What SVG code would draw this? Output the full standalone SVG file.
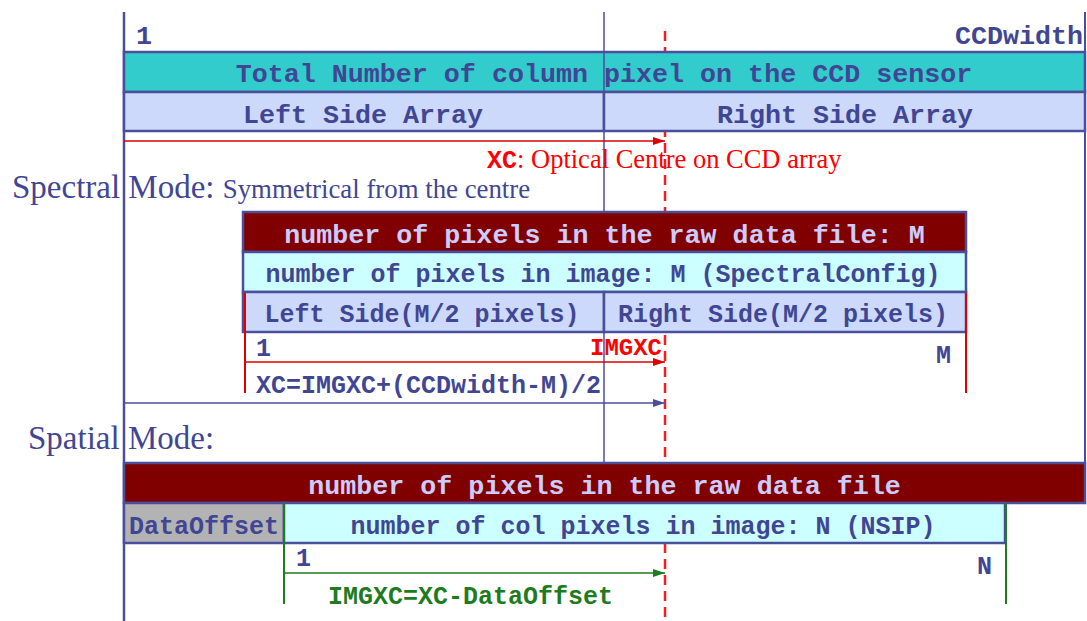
<svg xmlns="http://www.w3.org/2000/svg" width="1087" height="621" viewBox="0 0 1087 621">
<style>
.box{stroke:#4b4f9b;stroke-width:2.5}
.mono{font-family:"Liberation Mono","Courier New",monospace;font-weight:bold}
.serif{font-family:"Liberation Serif","Times New Roman",serif}
.navy{fill:#414694}
.lav{fill:#ccccff}
.red{fill:#ff0000}
.green{fill:#1e7b1e}
.t27{font-size:26.7px}
.t25{font-size:25px}
</style>
<defs>
<marker id="ahRed" viewBox="0 0 12 8" refX="12" refY="4" markerWidth="12" markerHeight="8" markerUnits="userSpaceOnUse" orient="auto"><path d="M0,0 L12,4 L0,8 Z" fill="#e00000"/></marker>
<marker id="ahNavy" viewBox="0 0 12 8" refX="12" refY="4" markerWidth="12" markerHeight="8" markerUnits="userSpaceOnUse" orient="auto"><path d="M0,0 L12,4 L0,8 Z" fill="#4b4f9b"/></marker>
<marker id="ahGreen" viewBox="0 0 12 8" refX="12" refY="4" markerWidth="12" markerHeight="8" markerUnits="userSpaceOnUse" orient="auto"><path d="M0,0 L12,4 L0,8 Z" fill="#1e7b1e"/></marker>
</defs>
<rect width="1087" height="621" fill="#ffffff"/>

<g id="connectors">
<line x1="124" y1="12" x2="124" y2="621" stroke="#4b4f9b" stroke-width="2.5"/>
<line x1="604" y1="12" x2="604" y2="462" stroke="#4b4f9b" stroke-width="1.5"/>
<line x1="1085" y1="12" x2="1085" y2="503" stroke="#4b4f9b" stroke-width="2"/>
<line x1="665" y1="31" x2="665" y2="621" stroke="#ff1a1a" stroke-width="2.5" stroke-dasharray="10,6"/>
<line x1="124" y1="141" x2="665" y2="141" stroke="#e00000" stroke-width="1.5" marker-end="url(#ahRed)"/>
<line x1="245" y1="362" x2="665" y2="362" stroke="#e00000" stroke-width="1.5" marker-end="url(#ahRed)"/>
<line x1="124" y1="403" x2="665" y2="403" stroke="#4b4f9b" stroke-width="1.5" marker-end="url(#ahNavy)"/>
<line x1="284" y1="573" x2="665" y2="573" stroke="#1e7b1e" stroke-width="1.5" marker-end="url(#ahGreen)"/>
</g>

<g id="ccd-total">
<rect class="box" x="124" y="52" width="961" height="40" fill="#33cccc"/>
<line x1="604" y1="52" x2="604" y2="92" stroke="#4b4f9b" stroke-width="1.5"/>
<text class="mono navy t27" x="604" y="82" text-anchor="middle">Total Number of column pixel on the CCD sensor</text>
</g>
<g id="ccd-left">
<rect class="box" x="124" y="92" width="480" height="39" fill="#ccd9fb"/>
<text class="mono navy t27" x="363" y="123" text-anchor="middle">Left Side Array</text>
</g>
<g id="ccd-right">
<rect class="box" x="604" y="92" width="481" height="39" fill="#ccd9fb"/>
<text class="mono navy t27" x="845" y="123" text-anchor="middle">Right Side Array</text>
</g>

<g id="spec-raw">
<rect class="box" x="243" y="212" width="723" height="40" fill="#800000"/>
<text class="mono lav t27" x="604.5" y="243" text-anchor="middle">number of pixels in the raw data file: M</text>
</g>
<g id="spec-image">
<rect class="box" x="243" y="252" width="723" height="40" fill="#ccffff"/>
<text class="mono navy t25" x="603" y="282" text-anchor="middle">number of pixels in image: M (SpectralConfig)</text>
</g>
<g id="spec-left">
<rect class="box" x="243" y="292" width="361" height="40" fill="#ccd9fb"/>
<text class="mono navy t25" x="422" y="322" text-anchor="middle">Left Side(M/2 pixels)</text>
</g>
<g id="spec-right">
<rect class="box" x="604" y="292" width="362" height="40" fill="#ccd9fb"/>
<text class="mono navy t25" x="783" y="322" text-anchor="middle">Right Side(M/2 pixels)</text>
</g>
<g id="spec-edges">
<line x1="245" y1="293" x2="245" y2="393" stroke="#e00000" stroke-width="2"/>
<line x1="966" y1="293" x2="966" y2="393" stroke="#e00000" stroke-width="2"/>
</g>

<g id="spat-raw">
<rect class="box" x="124" y="463" width="961" height="40" fill="#800000"/>
<text class="mono lav t27" x="604.5" y="494" text-anchor="middle">number of pixels in the raw data file</text>
</g>
<g id="spat-offset">
<rect class="box" x="124" y="503" width="160" height="40" fill="#b3b3b3"/>
<text class="mono navy t25" x="204" y="534" text-anchor="middle">DataOffset</text>
</g>
<g id="spat-image">
<rect class="box" x="284" y="503" width="721" height="40" fill="#ccffff"/>
<text class="mono navy t25" x="643" y="534" text-anchor="middle">number of col pixels in image: N (NSIP)</text>
</g>
<g id="spat-edges">
<line x1="284" y1="503" x2="284" y2="604" stroke="#1e7b1e" stroke-width="2"/>
<line x1="1006" y1="503" x2="1006" y2="604" stroke="#1e7b1e" stroke-width="2"/>
</g>

<g id="labels">
<text class="mono navy t27" x="136" y="44">1</text>
<text class="mono navy t27" x="1083" y="44" text-anchor="end">CCDwidth</text>
<text class="red" x="487" y="168" font-size="26.5"><tspan class="mono" font-size="25">XC</tspan><tspan class="serif">: Optical Centre on CCD array</tspan></text>
<text class="serif navy" x="12" y="198" font-size="33">Spectral Mode: <tspan font-size="26.8">Symmetrical from the centre</tspan></text>
<text class="mono navy t25" x="256" y="356">1</text>
<text class="mono red" x="662" y="355" font-size="24" text-anchor="end">IMGXC</text>
<text class="mono navy t25" x="936" y="363">M</text>
<text class="mono navy t25" x="256" y="393">XC=IMGXC+(CCDwidth-M)/2</text>
<text class="serif navy" x="28" y="449" font-size="33">Spatial Mode:</text>
<text class="mono navy t25" x="296" y="566">1</text>
<text class="mono navy t25" x="977" y="574">N</text>
<text class="mono green t25" x="328" y="604">IMGXC=XC-DataOffset</text>
</g>
</svg>
